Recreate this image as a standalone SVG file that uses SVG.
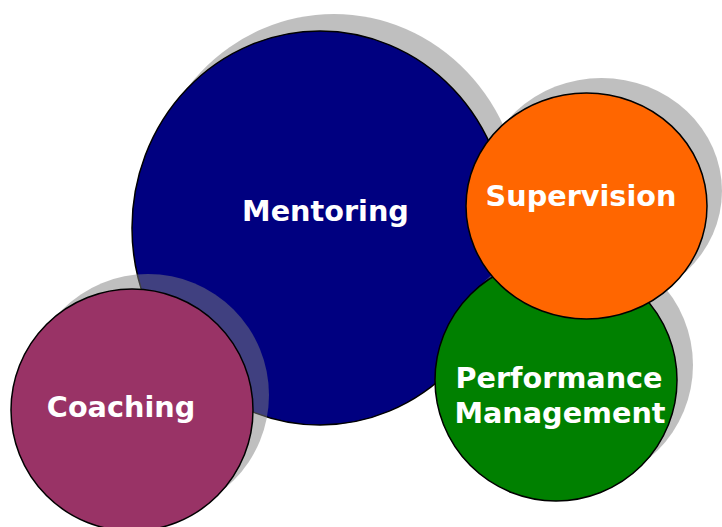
<svg xmlns="http://www.w3.org/2000/svg" width="722" height="527" viewBox="0 0 722 527">
  <style>
    .shadow { fill: #808080; fill-opacity: 0.5; stroke: none; }
    .disc { stroke: #000000; stroke-width: 1.5; }
    .label { font-family: "DejaVu Sans", Verdana, sans-serif; font-weight: bold; font-size: 28.7px; fill: #ffffff; text-anchor: middle; }
  </style>
  <rect width="722" height="527" fill="#ffffff"/>

  <g id="mentoring">
    <ellipse class="shadow" cx="334" cy="211" rx="188" ry="197"/>
    <ellipse class="disc" cx="320" cy="228" rx="188" ry="197" fill="#000080"/>
    <text class="label" x="325.5" y="221">Mentoring</text>
  </g>

  <g id="coaching">
    <circle class="shadow" cx="148" cy="395" r="121"/>
    <circle class="disc" cx="132" cy="410" r="121" fill="#993366"/>
    <text class="label" x="121" y="417">Coaching</text>
  </g>

  <g id="performance-management">
    <circle class="shadow" cx="572" cy="365" r="121"/>
    <circle class="disc" cx="556" cy="380" r="121" fill="#008000"/>
    <text class="label" x="559" y="388">Performance</text>
    <text class="label" x="560" y="423">Management</text>
  </g>

  <g id="supervision">
    <ellipse class="shadow" cx="601.5" cy="191" rx="120.5" ry="113"/>
    <ellipse class="disc" cx="586.5" cy="206" rx="120.5" ry="113" fill="#ff6600"/>
    <text class="label" x="581" y="206">Supervision</text>
  </g>

  <g id="connectors"/>
</svg>
